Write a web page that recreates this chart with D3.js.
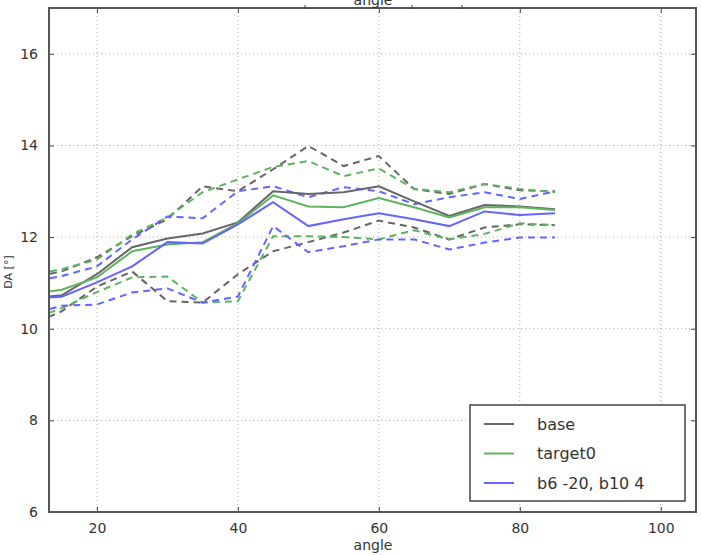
<!DOCTYPE html>
<meta charset="utf-8">
<style>
body { margin: 0; background: #fff; }
text { font-family: "DejaVu Sans", sans-serif; fill: #333; }
.grid line { stroke: #aaa; stroke-dasharray: 1,3; stroke-width: 1; }
.line { fill: none; stroke-width: 2; }
.dash { stroke-dasharray: 7,5; }
</style>
<svg width="701" height="555"></svg>
<script src="https://cdn.jsdelivr.net/npm/d3@7"></script>
<script>

var angles = [10, 15, 20, 25, 30, 35, 40, 45, 50, 55, 60, 65, 70, 75, 80, 85];

var baseMean  = [10.65, 10.73, 11.19, 11.78, 11.97, 12.08, 12.32, 13.0, 12.94, 12.98, 13.11, 12.78, 12.46, 12.70, 12.67, 12.61];
var baseHigh  = [11.1, 11.25, 11.56, 12.02, 12.39, 13.11, 13.0, 13.48, 13.99, 13.55, 13.77, 13.05, 12.94, 13.16, 13.02, 13.0];
var baseLow   = [10.05, 10.38, 10.92, 11.25, 10.6, 10.57, 11.19, 11.69, 11.89, 12.1, 12.36, 12.21, 11.95, 12.21, 12.28, 12.26];

var targetMean = [10.75, 10.85, 11.12, 11.69, 11.84, 11.89, 12.30, 12.91, 12.67, 12.65, 12.85, 12.65, 12.43, 12.65, 12.65, 12.59];
var targetHigh = [11.15, 11.3, 11.51, 12.06, 12.43, 12.98, 13.26, 13.53, 13.66, 13.33, 13.5, 13.05, 12.98, 13.16, 13.05, 12.98];
var targetLow  = [10.15, 10.45, 10.8, 11.12, 11.14, 10.57, 10.6, 12.02, 12.02, 12.0, 11.95, 12.15, 11.95, 12.07, 12.3, 12.26];

var b6Mean = [10.65, 10.7, 11.01, 11.36, 11.89, 11.86, 12.28, 12.76, 12.24, 12.39, 12.52, 12.39, 12.24, 12.56, 12.48, 12.52];
var b6High = [11.0, 11.15, 11.36, 11.95, 12.45, 12.41, 13.0, 13.11, 12.87, 13.09, 13.0, 12.72, 12.87, 12.98, 12.83, 13.0];
var b6Low  = [10.3, 10.5, 10.53, 10.79, 10.88, 10.57, 10.7, 12.24, 11.67, 11.8, 11.95, 11.95, 11.73, 11.88, 11.99, 11.99];

var seriesNames = ["base", "target0", "b6 -20, b10 4"];
var xTicks = [20, 40, 60, 80, 100];
var yTicks = [6, 8, 10, 12, 14, 16];

var series = [
  {name: seriesNames[0], color: "#666666", mean: baseMean, high: baseHigh, low: baseLow},
  {name: seriesNames[1], color: "#5fb35f", mean: targetMean, high: targetHigh, low: targetLow},
  {name: seriesNames[2], color: "#6464ff", mean: b6Mean, high: b6High, low: b6Low}
];

var svg = d3.select("svg"),
    margin = {top: 8, right: 5, bottom: 43, left: 49},
    width = 701 - margin.left - margin.right,
    height = 555 - margin.top - margin.bottom,
    g = svg.append("g").attr("transform", "translate(" + margin.left + "," + margin.top + ")");

var x = d3.scaleLinear().domain([13.2, 105]).range([0, width]),
    y = d3.scaleLinear().domain([6, 17]).range([height, 0]);

svg.append("defs").append("clipPath").attr("id", "clip")
  .append("rect").attr("width", width).attr("height", height);

// grid
var grid = g.append("g").attr("class", "grid");
grid.selectAll(".gx").data(xTicks).enter().append("line")
  .attr("x1", function(d) { return x(d); }).attr("x2", function(d) { return x(d); })
  .attr("y1", 0).attr("y2", height);
grid.selectAll(".gy").data(yTicks).enter().append("line")
  .attr("x1", 0).attr("x2", width)
  .attr("y1", function(d) { return y(d); }).attr("y2", function(d) { return y(d); });

var line = d3.line()
    .x(function(d, i) { return x(angles[i]); })
    .y(function(d) { return y(d); });

var plot = g.append("g").attr("clip-path", "url(#clip)");

series.forEach(function(s) {
  plot.append("path").attr("class", "line dash").attr("d", line(s.high)).style("stroke", s.color);
  plot.append("path").attr("class", "line dash").attr("d", line(s.low)).style("stroke", s.color);
});
series.forEach(function(s) {
  plot.append("path").attr("class", "line").attr("d", line(s.mean)).style("stroke", s.color);
});

// axes (ticks inside, on all sides)
function styleAxis(sel) {
  sel.select(".domain").remove();
  sel.selectAll(".tick line").attr("stroke", "#444");
  sel.selectAll("text").style("font-size", "14px").attr("fill", "#333");
}

g.append("g").attr("transform", "translate(0," + height + ")")
  .call(d3.axisBottom(x).tickValues(xTicks).tickSizeInner(-5).tickSizeOuter(0).tickPadding(11))
  .call(styleAxis);
g.append("g")
  .call(d3.axisTop(x).tickValues(xTicks).tickSizeInner(-5).tickSizeOuter(0).tickFormat(""))
  .call(styleAxis);
g.append("g")
  .call(d3.axisLeft(y).tickValues(yTicks).tickSizeInner(-5).tickSizeOuter(0).tickPadding(11))
  .call(styleAxis);
g.append("g").attr("transform", "translate(" + width + ",0)")
  .call(d3.axisRight(y).tickValues(yTicks).tickSizeInner(-5).tickSizeOuter(0).tickFormat(""))
  .call(styleAxis);

g.append("rect")
  .attr("width", width).attr("height", height)
  .attr("fill", "none").attr("stroke", "#555").attr("stroke-width", 2);

// stray marks from the panel above
g.selectAll(".stray").data([305, 412, 462]).enter().append("line")
  .attr("x1", function(d) { return d - margin.left; }).attr("x2", function(d) { return d - margin.left; })
  .attr("y1", -3).attr("y2", 1).attr("stroke", "#444");
svg.append("text").attr("x", 373).attr("y", 5).attr("text-anchor", "middle")
  .style("font-size", "14px").text("angle");

// labels
svg.append("text").attr("x", 373).attr("y", 550).attr("text-anchor", "middle")
  .style("font-size", "14px").text("angle");
svg.append("text")
  .attr("transform", "translate(12,272) rotate(-90)")
  .attr("text-anchor", "middle").style("font-size", "11px").text("DA [°]");

// legend
var legend = g.append("g").attr("transform", "translate(" + (470 - margin.left) + "," + (405 - margin.top) + ")");
legend.append("rect").attr("width", 215).attr("height", 96)
  .attr("fill", "#fff").attr("stroke", "#444").attr("stroke-width", 1.5);
var item = legend.selectAll(".item").data(series).enter().append("g")
  .attr("transform", function(d, i) { return "translate(0," + (19 + i * 29.5) + ")"; });
item.append("line").attr("x1", 14).attr("x2", 44).attr("y1", 0).attr("y2", 0)
  .attr("stroke", function(d) { return d.color; }).attr("stroke-width", 2);
item.append("text").attr("x", 67).attr("dy", "0.35em").style("font-size", "16px")
  .text(function(d) { return d.name; });

</script>
